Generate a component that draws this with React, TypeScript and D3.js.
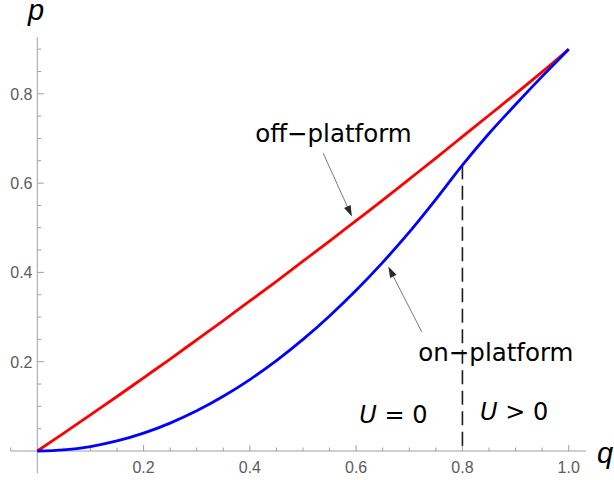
import React from "react";
import * as d3 from "d3";

// sampled q values (horizontal axis)
const qValues = [0, 0.05, 0.1, 0.15, 0.2, 0.25, 0.3, 0.35, 0.4, 0.45, 0.5, 0.55, 0.6, 0.65, 0.7, 0.75, 0.8, 0.85, 0.9, 0.95, 1.0];
// off-platform price curve (red)
const offPlatform = [0, 0.040, 0.081, 0.122, 0.164, 0.206, 0.249, 0.292, 0.336, 0.380, 0.425, 0.470, 0.516, 0.562, 0.609, 0.656, 0.704, 0.752, 0.800, 0.849, 0.900];
// on-platform price curve (blue)
const onPlatform = [0, 0.0025, 0.010, 0.0225, 0.040, 0.0625, 0.090, 0.1225, 0.160, 0.2025, 0.250, 0.3025, 0.360, 0.4225, 0.490, 0.5635, 0.640, 0.711, 0.776, 0.839, 0.900];

const xMajorTicks = [0.2, 0.4, 0.6, 0.8, 1.0];
const xTickLabels = ["0.2", "0.4", "0.6", "0.8", "1.0"];
const yMajorTicks = [0.2, 0.4, 0.6, 0.8];
const yTickLabels = ["0.2", "0.4", "0.6", "0.8"];
const xMinorTicks = [-0.05, 0.05, 0.1, 0.15, 0.25, 0.3, 0.35, 0.45, 0.5, 0.55, 0.65, 0.7, 0.75, 0.85, 0.9, 0.95];
const yMinorTicks = [0.05, 0.1, 0.15, 0.25, 0.3, 0.35, 0.45, 0.5, 0.55, 0.65, 0.7, 0.75, 0.85, 0.9];

// threshold q where U becomes positive
const thresholdQ = 0.8;
const thresholdP = 0.64;

// annotations (data coordinates)
const offLabel = { text: "off\u2212platform", q: 0.41, p: 0.693 };
const onLabel = { text: "on\u2212platform", q: 0.717, p: 0.202 };
const offArrow = { from: [0.538, 0.667], to: [0.592, 0.525] };
const onArrow = { from: [0.7234, 0.267], to: [0.6606, 0.413] };
const regionLabels = [
  { u: "U", rest: " = 0", q: 0.606, p: 0.063 },
  { u: "U", rest: " > 0", q: 0.833, p: 0.069 },
];

const W = 614;
const H = 480;

export default function App() {
  const x = d3.scaleLinear().domain([0, 1]).range([37.3, 568.7]);
  const y = d3.scaleLinear().domain([0, 1]).range([451, 4.5]);

  const line = d3
    .line<number>()
    .x((_, i) => x(qValues[i]))
    .y((d) => y(d))
    .curve(d3.curveMonotoneX);

  const axisColor = "#a0a0a0";
  const labelColor = "#5c5c5c";
  const tickFont = "'Liberation Sans', Arial, sans-serif";
  const annFont = "'DejaVu Sans', sans-serif";

  const arrow = (a: { from: number[]; to: number[] }, key: string) => {
    const x1 = x(a.from[0]);
    const y1 = y(a.from[1]);
    const x2 = x(a.to[0]);
    const y2 = y(a.to[1]);
    const ang = Math.atan2(y2 - y1, x2 - x1);
    const len = 11;
    const half = 3.6;
    const bx = x2 - len * Math.cos(ang);
    const by = y2 - len * Math.sin(ang);
    const px = -Math.sin(ang);
    const py = Math.cos(ang);
    const pts = [
      [x2, y2],
      [bx + half * px, by + half * py],
      [bx - half * px, by - half * py],
    ];
    return (
      <g key={key}>
        <line x1={x1} y1={y1} x2={bx} y2={by} stroke="#6a6a6a" strokeWidth={0.9} />
        <polygon points={pts.map((p) => p.join(",")).join(" ")} fill="#2a2a2a" />
      </g>
    );
  };

  return (
    <svg
      width={W}
      height={H}
      style={{ position: "absolute", left: 0, top: 0, background: "#fff" }}
    >
      {/* axes */}
      <line x1={x(-0.05)} x2={x(1.033)} y1={y(0)} y2={y(0)} stroke={axisColor} strokeWidth={1} />
      <line x1={x(0)} x2={x(0)} y1={y(-0.05)} y2={y(0.927)} stroke={axisColor} strokeWidth={1} />
      {xMajorTicks.map((t, i) => (
        <g key={"xm" + i}>
          <line x1={x(t)} x2={x(t)} y1={y(0)} y2={y(0) - 6} stroke={axisColor} />
          <text x={x(t)} y={473} textAnchor="middle" fontFamily={tickFont} fontSize={16} fill={labelColor}>
            {xTickLabels[i]}
          </text>
        </g>
      ))}
      {xMinorTicks.map((t, i) => (
        <line key={"xn" + i} x1={x(t)} x2={x(t)} y1={y(0)} y2={y(0) - 3.5} stroke={axisColor} />
      ))}
      {yMajorTicks.map((t, i) => (
        <g key={"ym" + i}>
          <line x1={x(0)} x2={x(0) + 6.5} y1={y(t)} y2={y(t)} stroke={axisColor} />
          <text x={32.5} y={y(t) + 5.8} textAnchor="end" fontFamily={tickFont} fontSize={16} fill={labelColor}>
            {yTickLabels[i]}
          </text>
        </g>
      ))}
      {yMinorTicks.map((t, i) => (
        <line key={"yn" + i} x1={x(0)} x2={x(0) + 4} y1={y(t)} y2={y(t)} stroke={axisColor} />
      ))}

      {/* axis labels */}
      <text x={28} y={20} fontFamily={tickFont} fontStyle="italic" fontSize={29} fill="#000">
        p
      </text>
      <text x={597} y={463} fontFamily={tickFont} fontStyle="italic" fontSize={29} fill="#000">
        q
      </text>

      {/* threshold dashed line */}
      <line
        x1={x(thresholdQ)}
        x2={x(thresholdQ)}
        y1={y(thresholdP)}
        y2={y(0)}
        stroke="#1a1a1a"
        strokeWidth={1.6}
        strokeDasharray="14,6.5"
      />

      {/* curves */}
      <path d={line(offPlatform) || ""} fill="none" stroke="#ff0000" strokeWidth={2.8} />
      <path d={line(onPlatform) || ""} fill="none" stroke="#0000ff" strokeWidth={2.8} />

      {/* annotations */}
      <text x={x(offLabel.q)} y={y(offLabel.p)} fontFamily={annFont} fontSize={24.5} fill="#000">
        {offLabel.text}
      </text>
      <text x={x(onLabel.q)} y={y(onLabel.p)} fontFamily={annFont} fontSize={24.5} fill="#000">
        {onLabel.text}
      </text>
      {arrow(offArrow, "a1")}
      {arrow(onArrow, "a2")}
      {regionLabels.map((r, i) => (
        <text key={"r" + i} x={x(r.q)} y={y(r.p)} fontFamily={annFont} fontSize={24} fill="#000">
          <tspan fontStyle="italic">{r.u}</tspan>
          {r.rest}
        </text>
      ))}
    </svg>
  );
}
